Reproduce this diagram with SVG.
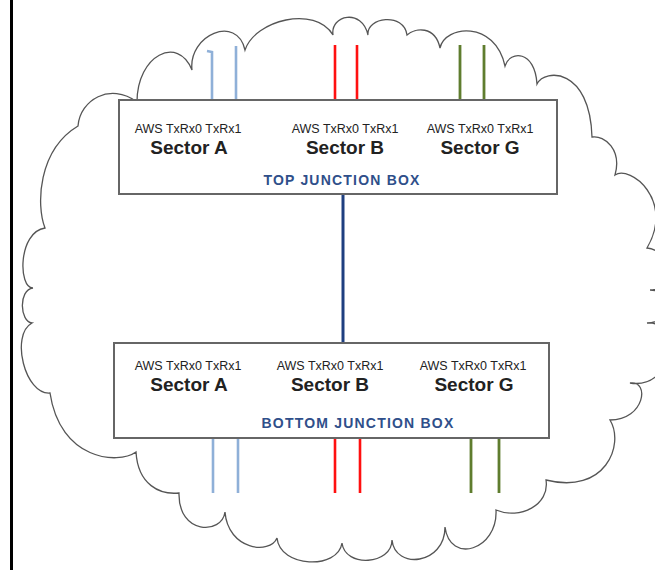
<svg xmlns="http://www.w3.org/2000/svg" width="655" height="570" viewBox="0 0 655 570">
<style>
.cloud{fill:#fff;stroke:#555;stroke-width:1.3;stroke-linejoin:miter}
.box{fill:#fff;stroke:#666;stroke-width:2}
.aws{font-family:"Liberation Sans",Arial,sans-serif;font-size:12.5px;fill:#222;text-anchor:middle}
.sec{font-family:"Liberation Sans",Arial,sans-serif;font-size:19px;font-weight:bold;fill:#222;text-anchor:middle}
.jb{font-family:"Liberation Sans",Arial,sans-serif;font-size:14px;font-weight:bold;fill:#2f4f8a;text-anchor:middle;letter-spacing:1.2px}
.blue{stroke:#8fb0d8;stroke-width:2.6;fill:none}
.red{stroke:#ff1010;stroke-width:2.6;fill:none}
.green{stroke:#5f7d2e;stroke-width:2.8;fill:none}
.link{stroke:#1f3f80;stroke-width:3;fill:none}
</style>
<rect x="0" y="0" width="655" height="570" fill="#fff"/>
<line x1="11.5" y1="0" x2="11.5" y2="570" stroke="#000" stroke-width="3"/>
<g id="cloud">
<path class="cloud" d="M137,102 C137,55 178,35 192,70 C188,35 237,14 245,50 C255,20 315,5 333,35 C330,15 362,8 368,35 C366,17 404,12 407,35 C415,28 435,25 440,48 C445,25 495,20 505,66 C510,50 535,50 537,84 C545,68 590,68 592,137 C605,135 622,150 615,175 C630,165 675,200 647,248 C672,250 675,290 650,290 C672,290 672,323 647,323 C680,320 675,390 630,383 C650,380 645,420 610,420 C625,445 605,495 546,480 C550,505 520,520 496,510 C498,550 450,565 445,527 C445,565 395,570 392,540 C392,565 345,568 342,543 C338,570 280,568 277,538 C270,555 228,550 225,512 C222,535 178,535 179,493 C160,495 138,485 136,452 C118,465 60,460 50,393 C25,395 10,335 32,323 C20,322 18,290 33,288 C18,288 18,232 45,228 C36,205 38,150 78,126 C80,100 110,82 137,102 Z"/>
</g>
<g id="connectors">
<line class="link" x1="343" y1="194" x2="343" y2="343"/>
<path class="blue" d="M207,51 L212,52 L212,100"/>
<line class="blue" x1="236" y1="46" x2="236" y2="100"/>
<line class="red" x1="335" y1="45" x2="335" y2="100"/>
<line class="red" x1="357" y1="45" x2="357" y2="100"/>
<line class="green" x1="460" y1="45" x2="460" y2="100"/>
<line class="green" x1="484" y1="45" x2="484" y2="100"/>
<line class="blue" x1="213" y1="438" x2="213" y2="493"/>
<line class="blue" x1="238" y1="438" x2="238" y2="493"/>
<line class="red" x1="335" y1="438" x2="335" y2="493"/>
<line class="red" x1="360" y1="438" x2="360" y2="493"/>
<line class="green" x1="471" y1="438" x2="471" y2="493"/>
<line class="green" x1="499" y1="438" x2="499" y2="493"/>
</g>
<g id="top-junction-box">
<rect class="box" x="119" y="100" width="438" height="94"/>
<text class="aws" x="188" y="133">AWS TxRx0 TxRx1</text>
<text class="sec" x="189" y="154">Sector A</text>
<text class="aws" x="345" y="133">AWS TxRx0 TxRx1</text>
<text class="sec" x="345" y="154">Sector B</text>
<text class="aws" x="480" y="133">AWS TxRx0 TxRx1</text>
<text class="sec" x="480" y="154">Sector G</text>
<text class="jb" x="342" y="185">TOP JUNCTION BOX</text>
</g>
<g id="bottom-junction-box">
<rect class="box" x="114" y="343" width="435" height="95"/>
<text class="aws" x="188" y="370">AWS TxRx0 TxRx1</text>
<text class="sec" x="189" y="391">Sector A</text>
<text class="aws" x="330" y="370">AWS TxRx0 TxRx1</text>
<text class="sec" x="330" y="391">Sector B</text>
<text class="aws" x="473" y="370">AWS TxRx0 TxRx1</text>
<text class="sec" x="474" y="391">Sector G</text>
<text class="jb" x="358" y="428">BOTTOM JUNCTION BOX</text>
</g>
</svg>
